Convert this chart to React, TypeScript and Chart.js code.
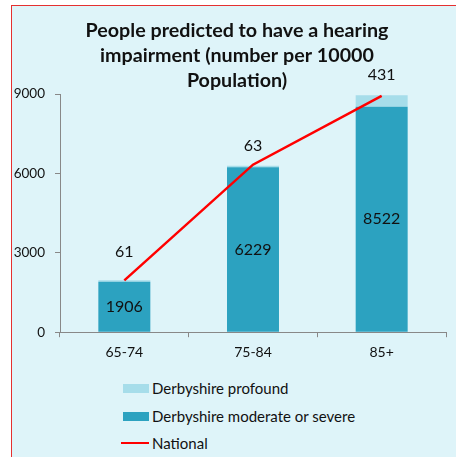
import React, { useEffect, useRef } from "react";
import { Chart, registerables } from "chart.js";

Chart.register(...registerables);

const categories = ["65-74", "75-84", "85+"];
const moderateSevere = [1906, 6229, 8522];
const profound = [61, 63, 431];
const national = [1960, 6330, 8930];
const yTicks = [0, 3000, 6000, 9000];
const titleLines = ["People predicted to have a hearing", "impairment (number per 10000", "Population)"];
const legendLabels = ["Derbyshire profound", "Derbyshire moderate or severe", "National"];

const FONT = "Lato, 'Open Sans', sans-serif";
const BG = "#DEF4F9";
const MOD = "#2CA2C0";
const PROF = "#A6DDEA";
const RED = "#FF0000";
const profoundLift = [28, 20, 20];
const titleShift = 16;

const labelPlugin = {
  id: "barLabels",
  afterLayout(chart: any) {
    const t = chart.titleBlock;
    if (t) {
      t.left += titleShift;
    }
  },
  afterDatasetsDraw(chart: any) {
    const ctx = chart.ctx;
    ctx.save();
    ctx.font = `16px ${FONT}`;
    ctx.fillStyle = "#111";
    ctx.textAlign = "center";
    ctx.textBaseline = "middle";
    const modMeta = chart.getDatasetMeta(0);
    modMeta.data.forEach((el: any, i: number) => {
      const { x, y, base } = el.getProps(["x", "y", "base"], true);
      ctx.fillText(String(moderateSevere[i]), x, (y + base) / 2);
    });
    const profMeta = chart.getDatasetMeta(1);
    profMeta.data.forEach((el: any, i: number) => {
      const { x, y } = el.getProps(["x", "y"], true);
      ctx.fillText(String(profound[i]), x, y - profoundLift[i]);
    });
    ctx.restore();
  },
};

export default function App() {
  const ref = useRef<HTMLCanvasElement | null>(null);
  useEffect(() => {
    if (!ref.current) return;
    const chart = new Chart(ref.current, {
      type: "bar",
      data: {
        labels: categories,
        datasets: [
          {
            type: "bar",
            label: legendLabels[1],
            data: moderateSevere,
            backgroundColor: MOD,
            stack: "bars",
            order: 1,
            categoryPercentage: 0.8,
            barPercentage: 0.505,
          } as any,
          {
            type: "bar",
            label: legendLabels[0],
            data: profound,
            backgroundColor: PROF,
            stack: "bars",
            order: 1,
            categoryPercentage: 0.8,
            barPercentage: 0.505,
          } as any,
          {
            type: "line",
            label: legendLabels[2],
            data: national,
            borderColor: RED,
            backgroundColor: RED,
            borderWidth: 2.5,
            pointRadius: 0,
            tension: 0,
            stack: "line",
            order: 0,
          } as any,
        ],
      },
      options: {
        responsive: false,
        animation: false,
        layout: { padding: { left: 0, right: 10, top: 0, bottom: 10 } },
        plugins: {
          legend: { display: false },
          tooltip: { enabled: false },
          title: {
            display: true,
            text: titleLines,
            color: "#111",
            font: { family: FONT, size: 19.7, weight: "bold", lineHeight: 25 / 19.7 },
            padding: { top: 12, bottom: 1 },
          },
        },
        scales: {
          x: {
            stacked: true,
            grid: { drawOnChartArea: false, tickLength: 5, color: "#888", offset: true },
            border: { color: "#888", width: 1 },
            ticks: { color: "#111", font: { family: FONT, size: 14 }, padding: 7 },
          },
          y: {
            stacked: true,
            min: 0,
            max: 9000,
            afterBuildTicks(scale: any) {
              scale.ticks = yTicks.map((v) => ({ value: v }));
            },
            afterFit(scale: any) {
              scale.width = 48;
            },
            grid: { drawOnChartArea: false, tickLength: 5, color: "#888" },
            border: { color: "#888", width: 1 },
            ticks: {
              color: "#111",
              font: { family: FONT, size: 13.5 },
              padding: 10,
              callback: (v: any) => String(v),
            },
          },
        },
      },
      plugins: [labelPlugin],
    });
    return () => chart.destroy();
  }, []);

  const legendRow = (top: number, kind: "box" | "line", color: string, text: string) => (
    <div key={text} style={{ position: "absolute", left: 121, top: top - 10, height: 20, display: "flex", alignItems: "center" }}>
      {kind === "box" ? (
        <div style={{ width: 26, height: 9, marginLeft: 2, background: color }} />
      ) : (
        <div style={{ width: 28, height: 2, background: color }} />
      )}
      <span style={{ marginLeft: 3, font: `15px ${FONT}`, color: "#111", whiteSpace: "nowrap" }}>{text}</span>
    </div>
  );

  return (
    <div style={{ position: "fixed", left: 0, top: 0, width: 456, height: 457, background: "#fff", overflow: "hidden" }}>
      <div
        style={{
          position: "absolute",
          left: 11,
          top: 5,
          width: 470,
          height: 470,
          background: BG,
          borderLeft: "1px solid #E53030",
          borderTop: "1px solid #E53030",
        }}
      />
      <canvas ref={ref} width={444} height={372} style={{ position: "absolute", left: 12, top: 6, display: "block" }} />
      {legendRow(388, "box", PROF, legendLabels[0])}
      {legendRow(416, "box", MOD, legendLabels[1])}
      {legendRow(443, "line", RED, legendLabels[2])}
    </div>
  );
}
